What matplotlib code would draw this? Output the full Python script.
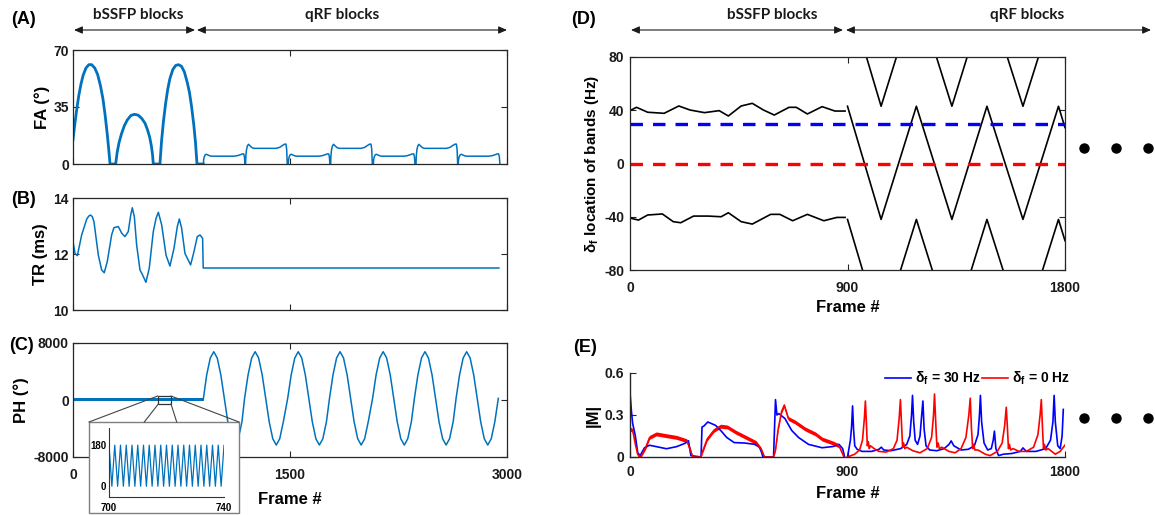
import numpy as np
import matplotlib
matplotlib.use("Agg")
import matplotlib.pyplot as plt
from matplotlib.patches import Rectangle, FancyArrowPatch
from matplotlib.lines import Line2D

# ---------------------------------------------------------------- data
# (A) flip angle: three bSSFP arches, then seven qRF blocks
fa_arch1_frame = [0, 12, 25, 40, 55, 70, 90, 110, 129, 150, 170, 190, 207, 222, 236, 247, 256]
fa_arch1_value = [15, 24, 33, 42, 49, 54.5, 59, 61, 61, 59, 55, 48, 40, 30, 19, 9, 0]
fa_arch2_frame = [295, 305, 318, 335, 355, 375, 400, 425, 450, 475, 498, 515, 530, 542, 550, 555]
fa_arch2_value = [0, 7, 13, 18.5, 23.5, 27, 29.8, 30.5, 30, 28, 25, 21, 16.5, 11, 5.5, 0]
fa_arch3_frame = [601, 612, 625, 640, 655, 670, 690, 710, 729, 750, 770, 790, 805, 820, 835, 847, 857]
fa_arch3_value = [0, 14, 26, 37, 46, 52.5, 58, 60.5, 61, 60, 56.5, 50, 44, 35, 24, 13, 0]
fa_block_start = [901, 1193, 1488, 1781, 2076, 2371, 2663]
fa_block_offset = [0, 2, 6, 12, 20, 30, 45, 60, 210, 235, 255, 270, 279, 284, 288]
fa_block_low = [0, 2.5, 4.3, 5.5, 6.0, 5.6, 5.0, 4.8, 4.8, 5.1, 5.7, 6.2, 6.2, 4.5, 0]
fa_block_high = [0, 5.0, 8.6, 11.0, 12.1, 11.2, 10.0, 9.6, 9.6, 10.2, 11.4, 12.2, 12.2, 9.0, 0]
fa_block_kind = ['low', 'high', 'low', 'high', 'low', 'high', 'low']

# (B) repetition time
tr_frame = [0, 14, 30, 60, 95, 110, 122, 134, 145, 175, 198, 216, 237, 267, 283, 313, 337,
            359, 382, 399, 410, 424, 440, 463, 481, 504, 527, 555, 574, 590, 613, 643,
            670, 698, 721, 735, 751, 774, 790, 813, 836, 859, 878, 896, 900, 2944]
tr_value = [12.44, 12.02, 11.94, 12.68, 13.25, 13.36, 13.39, 13.33, 13.15, 11.96, 11.43,
            11.33, 11.73, 12.68, 12.94, 12.98, 12.74, 12.62, 12.80, 13.39, 13.65, 13.33,
            12.32, 11.43, 11.25, 10.99, 11.49, 12.80, 13.27, 13.49, 13.04, 11.96, 11.57,
            12.2, 12.98, 13.25, 12.92, 12.02, 11.85, 11.61, 12.08, 12.62, 12.68, 12.56,
            11.5, 11.5]

# (C) RF phase: bSSFP alternates 0/180 each TR, qRF follows a quadratic-phase cycle
ph_bssfp_cycle = [180, 0]
ph_bssfp_frames = 900
ph_qrf = [
    (900, 0), (924, 3510), (949, 5900), (973, 6780), (997, 5900), (1022, 3510),
    (1046, 230), (1070, -3040), (1095, -5440), (1119, -6320), (1143, -5440), (1168, -3040),
    (1186, 230), (1210, 3510), (1235, 5900), (1259, 6780), (1283, 5900), (1308, 3510),
    (1332, 230), (1356, -3040), (1381, -5440), (1405, -6320), (1429, -5440), (1454, -3040),
    (1484, 230), (1508, 3510), (1533, 5900), (1557, 6780), (1581, 5900), (1606, 3510),
    (1630, 230), (1654, -3040), (1679, -5440), (1703, -6320), (1727, -5440), (1752, -3040),
    (1773, 230), (1797, 3510), (1822, 5900), (1846, 6780), (1870, 5900), (1895, 3510),
    (1919, 230), (1943, -3040), (1968, -5440), (1992, -6320), (2016, -5440), (2041, -3040),
    (2071, 230), (2095, 3510), (2120, 5900), (2144, 6780), (2168, 5900), (2193, 3510),
    (2217, 230), (2241, -3040), (2266, -5440), (2290, -6320), (2314, -5440), (2339, -3040),
    (2360, 230), (2384, 3510), (2409, 5900), (2433, 6780), (2457, 5900), (2482, 3510),
    (2506, 230), (2530, -3040), (2555, -5440), (2579, -6320), (2603, -5440), (2628, -3040),
    (2648, 230), (2672, 3510), (2697, 5900), (2721, 6780), (2745, 5900), (2770, 3510),
    (2794, 230), (2818, -3040), (2843, -5440), (2867, -6320), (2891, -5440), (2916, -3040),
    (2940, 230),
]

# (D) location of the stop bands
band_upper = [(0, 40), (5, 40.2), (27, 42.2), (73, 38.5), (141, 37.7), (202, 43.2), (248, 40.2),
              (308, 38.2), (369, 39.7), (407, 35.7), (460, 43.2), (506, 45.2), (552, 40.2),
              (597, 36.4), (658, 42.2), (688, 42.2), (734, 37.2), (795, 42.7), (848, 39.4),
              (890, 39.4)]
band_lower = [(0, -40), (5, -41.2), (35, -42.5), (73, -38.7), (134, -37.9), (179, -43.7),
              (210, -44.5), (263, -39.5), (324, -39.5), (377, -40.0), (407, -37.0),
              (460, -43.7), (506, -45.5), (582, -38.2), (620, -38.2), (673, -43.0),
              (734, -38.2), (802, -43.0), (856, -40.5), (890, -40.5)]
band_qrf_frame = [900, 1039, 1185, 1332, 1477, 1626, 1773, 1800]
band_qrf_value = [43, -42, 43, -42, 43, -42, 43, 27]
band_spacing = 85
offres_blue = 30
offres_red = 0

# (E) signal magnitude for the two off-resonance values
m30_bssfp = [(0, 0.46), (6, 0.325), (11, 0.24), (16, 0.2), (22, 0.152), (32, 0.03), (42, 0.01),
             (60, 0.066), (81, 0.084), (109, 0.074), (151, 0.059), (193, 0.074), (228, 0.098),
             (242, 0.116), (247, 0.06), (252, 0.01), (294, 0.0), (298, 0.214), (305, 0.22),
             (322, 0.25), (354, 0.226), (375, 0.19), (400, 0.14), (431, 0.103), (473, 0.1),
             (515, 0.091), (536, 0.07), (545, 0.03), (550, 0.0), (594, 0.0), (602, 0.41),
             (608, 0.30), (616, 0.31), (641, 0.275), (669, 0.19), (697, 0.14), (739, 0.09),
             (795, 0.066), (840, 0.075), (865, 0.09), (880, 0.06), (888, 0.0)]
m0_bssfp = [(0, 0.20), (11, 0.19), (22, 0.09), (32, 0.017), (46, 0.0), (64, 0.066), (81, 0.14),
            (109, 0.165), (151, 0.152), (193, 0.14), (235, 0.116), (249, 0.054), (260, 0.0),
            (294, 0.0), (298, 0.03), (319, 0.128), (347, 0.19), (375, 0.22), (403, 0.214),
            (438, 0.177), (480, 0.14), (522, 0.103), (543, 0.054), (557, 0.0), (594, 0.0),
            (602, 0.054), (613, 0.20), (627, 0.325), (638, 0.37), (655, 0.275), (683, 0.25),
            (725, 0.20), (767, 0.165), (795, 0.128), (840, 0.10), (865, 0.08), (885, 0.0)]
m0_ripple = 0.014
m30_qrf = [(900, 0.0), (905, 0.05), (912, 0.12), (917, 0.22), (921, 0.365), (925, 0.2),
           (930, 0.08), (940, 0.055), (960, 0.04), (1000, 0.04), (1030, 0.055), (1040, 0.07),
           (1050, 0.05), (1080, 0.045), (1120, 0.06), (1145, 0.09), (1158, 0.15), (1165, 0.3),
           (1169, 0.44), (1174, 0.25), (1180, 0.12), (1190, 0.09), (1200, 0.15), (1207, 0.3),
           (1212, 0.40), (1217, 0.2), (1225, 0.08), (1240, 0.05), (1270, 0.045), (1300, 0.06),
           (1320, 0.09), (1329, 0.115), (1340, 0.08), (1370, 0.05), (1400, 0.055), (1425, 0.08),
           (1440, 0.16), (1446, 0.3), (1450, 0.44), (1455, 0.25), (1465, 0.1), (1480, 0.05),
           (1495, 0.06), (1503, 0.12), (1508, 0.185), (1514, 0.06), (1525, 0.01), (1545, 0.02),
           (1580, 0.025), (1615, 0.04), (1626, 0.065), (1640, 0.04), (1680, 0.04), (1720, 0.06),
           (1740, 0.12), (1750, 0.25), (1755, 0.44), (1760, 0.25), (1770, 0.08), (1780, 0.06),
           (1788, 0.15), (1793, 0.34)]
m0_qrf = [(900, 0.0), (930, 0.02), (950, 0.05), (962, 0.12), (970, 0.28), (974, 0.40),
          (978, 0.25), (982, 0.08), (986, 0.11), (990, 0.06), (995, 0.08), (1010, 0.06),
          (1030, 0.04), (1060, 0.035), (1090, 0.06), (1105, 0.12), (1114, 0.28), (1119, 0.41),
          (1124, 0.22), (1128, 0.07), (1132, 0.1), (1137, 0.06), (1145, 0.07), (1170, 0.045),
          (1200, 0.03), (1230, 0.06), (1248, 0.14), (1256, 0.3), (1260, 0.45), (1265, 0.25),
          (1270, 0.07), (1275, 0.1), (1280, 0.06), (1290, 0.07), (1320, 0.04), (1345, 0.03),
          (1370, 0.06), (1390, 0.14), (1402, 0.3), (1408, 0.42), (1413, 0.2), (1418, 0.06),
          (1422, 0.09), (1427, 0.05), (1440, 0.05), (1470, 0.02), (1490, 0.01), (1520, 0.04),
          (1540, 0.1), (1550, 0.22), (1557, 0.355), (1562, 0.2), (1566, 0.06), (1570, 0.09),
          (1575, 0.05), (1585, 0.06), (1610, 0.04), (1640, 0.04), (1670, 0.07), (1688, 0.16),
          (1697, 0.3), (1702, 0.41), (1707, 0.2), (1711, 0.06), (1715, 0.09), (1720, 0.05),
          (1730, 0.06), (1760, 0.02), (1780, 0.04), (1800, 0.085)]

# ---------------------------------------------------------------- style
W, H = 1155, 515
plt.rcParams['font.family'] = ['Liberation Sans', 'DejaVu Sans']
plt.rcParams['font.weight'] = 'bold'
plt.rcParams['axes.labelweight'] = 'bold'
plt.rcParams['axes.unicode_minus'] = False
plt.rcParams['mathtext.fontset'] = 'custom'
plt.rcParams['mathtext.rm'] = 'Liberation Sans:bold'
plt.rcParams['mathtext.bf'] = 'Liberation Sans:bold'
plt.rcParams['mathtext.it'] = 'Liberation Sans:bold:italic'
plt.rcParams['mathtext.default'] = 'bf'
plt.rcParams['lines.scale_dashes'] = False

MBLUE = '#0072BD'
SPINE = '#262626'
HEAD_FONT = ['Lato', 'DejaVu Sans']

# right-hand column geometry (pixels)
RL, RR = 630, 1065


def axes_px(fig, left, top, right, bottom, **kw):
    return fig.add_axes([left / W, 1 - bottom / H, (right - left) / W, (bottom - top) / H], **kw)


def fx(x):
    return x / W


def fy(y):
    return 1 - y / H


def boxed(ax, xpad=8):
    ax.tick_params(direction='in', length=4, width=0.8, top=True, right=True,
                   labelsize=10, pad=3, colors=SPINE, labelcolor='#1a1a1a')
    ax.tick_params(axis='x', pad=xpad)
    for s in ax.spines.values():
        s.set_linewidth(0.9)
        s.set_color(SPINE)


def unzip(pairs):
    return [p[0] for p in pairs], [p[1] for p in pairs]


def place_ylabel(ax, text, x_px, left_px, width_px, size=12):
    ax.set_ylabel(text, fontsize=size)
    ax.yaxis.set_label_coords((x_px - left_px) / width_px, 0.5)
    ax.yaxis.label.set_va('center')


def place_xlabel(ax, text, y_px, bottom_px, height_px, size=12):
    ax.set_xlabel(text, fontsize=size)
    ax.xaxis.set_label_coords(0.5, -(y_px - bottom_px) / height_px)
    ax.xaxis.label.set_va('center')


fig = plt.figure(figsize=(W / 100, H / 100), dpi=100)
fig.patch.set_facecolor('white')

# ---------------------------------------------------------------- (A)
ax_a = axes_px(fig, 73, 50, 507, 164)
arch_f = fa_arch1_frame + fa_arch2_frame + fa_arch3_frame + [fa_block_start[0]]
arch_v = fa_arch1_value + fa_arch2_value + fa_arch3_value + [0]
ax_a.plot(arch_f, arch_v, color=MBLUE, lw=2.0, solid_joinstyle='round')
qrf_f, qrf_v = [], []
for start, kind in zip(fa_block_start, fa_block_kind):
    prof = fa_block_low if kind == 'low' else fa_block_high
    qrf_f += [start + o for o in fa_block_offset]
    qrf_v += prof
ax_a.plot(qrf_f, qrf_v, color=MBLUE, lw=1.1)
ax_a.set_xlim(0, 3000)
ax_a.set_ylim(0, 70)
ax_a.set_xticks([0, 1500, 3000])
ax_a.set_yticks([0, 35, 70])
boxed(ax_a)
ax_a.tick_params(labelbottom=False)
place_ylabel(ax_a, 'FA (°)', 42, 73, 434)

# ---------------------------------------------------------------- (B)
ax_b = axes_px(fig, 73, 198, 507, 310)
ax_b.plot(tr_frame, tr_value, color=MBLUE, lw=1.1)
ax_b.set_xlim(0, 3000)
ax_b.set_ylim(10, 14)
ax_b.set_xticks([0, 1500, 3000])
ax_b.set_yticks([10, 12, 14])
boxed(ax_b)
ax_b.tick_params(labelbottom=False)
place_ylabel(ax_b, 'TR (ms)', 40, 73, 434)

# ---------------------------------------------------------------- (C)
ph_f = list(range(ph_bssfp_frames))
ph_v = list(np.tile(ph_bssfp_cycle, ph_bssfp_frames // 2))
qf, qv = unzip(ph_qrf)
ph_f += qf
ph_v += qv
ax_c = axes_px(fig, 73, 343, 507, 457)
ax_c.plot(ph_f, ph_v, color=MBLUE, lw=1.1)
ax_c.set_xlim(0, 3000)
ax_c.set_ylim(-8000, 8000)
ax_c.set_xticks([0, 1500, 3000])
ax_c.set_yticks([-8000, 0, 8000])
boxed(ax_c)
place_ylabel(ax_c, 'PH (°)', 21, 73, 434)
place_xlabel(ax_c, 'Frame #', 500, 457, 114)

# zoom box on the bSSFP phase and the inset it opens into
ax_c.add_patch(Rectangle((585, -560), 92, 1120, fill=False, ec='#333333', lw=0.9, zorder=5))
fig.patches.append(Rectangle((fx(89), fy(513)), (239 - 89) / W, (513 - 422) / H,
                             transform=fig.transFigure, fc='white', ec='#7f7f7f', lw=1.0,
                             zorder=3))
for (x0, y0), (x1, y1) in [((157.7, 396), (89, 422)), ((171, 396), (239, 422)),
                           ((158.3, 404), (144.3, 422)), ((171, 404), (176.7, 422))]:
    fig.lines.append(Line2D([fx(x0), fx(x1)], [fy(y0), fy(y1)], transform=fig.transFigure,
                            color='#444444', lw=0.8, zorder=4))
ax_in = axes_px(fig, 109, 428, 224, 497, zorder=5)
ax_in.patch.set_alpha(0)
ax_in.plot(ph_f, ph_v, color=MBLUE, lw=0.9)
ax_in.set_xlim(700, 740)
ax_in.set_ylim(-47, 255)
ax_in.set_xticks([700, 740])
ax_in.set_yticks([0, 180])
ax_in.spines['top'].set_visible(False)
ax_in.spines['right'].set_visible(False)
for s in ('left', 'bottom'):
    ax_in.spines[s].set_linewidth(0.8)
    ax_in.spines[s].set_color('#333333')
ax_in.tick_params(direction='in', length=0, labelsize=7, pad=2)
ax_in.tick_params(axis='x', pad=4)

# ---------------------------------------------------------------- (D)
ax_d = axes_px(fig, RL, 57, RR, 270)
uf, uv = unzip(band_upper)
lf, lv = unzip(band_lower)
ax_d.plot(uf, uv, color='k', lw=1.2)
ax_d.plot(lf, lv, color='k', lw=1.2)
for k in (-1, 0, 1):
    ax_d.plot(band_qrf_frame, np.array(band_qrf_value) + k * band_spacing, color='k', lw=1.2)
ax_d.plot([0, 1800], [offres_blue, offres_blue], color='#0000FF', lw=2.4, dashes=(9.0, 7.2))
ax_d.plot([0, 1800], [offres_red, offres_red], color='#FF0000', lw=2.4, dashes=(9.0, 7.2))
ax_d.set_xlim(0, 1800)
ax_d.set_ylim(-80, 80)
ax_d.set_xticks([0, 900, 1800])
ax_d.set_yticks([-80, -40, 0, 40, 80])
boxed(ax_d)
ax_d.tick_params(axis='y', pad=4)
place_ylabel(ax_d, 'δ${}_{f}$ location of bands (Hz)', 592, RL, RR - RL, size=11)
place_xlabel(ax_d, 'Frame #', 307, 270, 213)

# ---------------------------------------------------------------- (E)
ax_e = axes_px(fig, RL, 373, RR, 457)
bf, bv = unzip(m30_bssfp)
rf, rv = unzip(m0_bssfp)
ax_e.plot(bf, bv, color='#0000FF', lw=1.2)
rv_arr = np.array(rv)
half = np.minimum(rv_arr, m0_ripple)
ax_e.fill_between(rf, rv_arr - half, rv_arr + half, color='#FF0000', lw=0)
ax_e.plot(rf, rv, color='#FF0000', lw=1.1)
bqf, bqv = unzip(m30_qrf)
rqf, rqv = unzip(m0_qrf)
ax_e.plot(bqf, bqv, color='#0000FF', lw=1.2)
ax_e.plot(rqf, rqv, color='#FF0000', lw=1.2)
ax_e.set_xlim(0, 1800)
ax_e.set_ylim(0, 0.6)
ax_e.set_xticks([0, 900, 1800])
ax_e.set_yticks([0, 0.3, 0.6])
ax_e.set_yticklabels(['0', '0.3', '0.6'])
ax_e.spines['top'].set_visible(False)
ax_e.spines['right'].set_visible(False)
for s in ('left', 'bottom'):
    ax_e.spines[s].set_linewidth(1.0)
    ax_e.spines[s].set_color(SPINE)
ax_e.tick_params(direction='in', length=4, width=0.8, labelsize=10, pad=4, colors=SPINE,
                 labelcolor='#1a1a1a')
ax_e.tick_params(axis='x', pad=6)
place_ylabel(ax_e, '|M|', 593, RL, RR - RL)
place_xlabel(ax_e, 'Frame #', 493, 457, 84)

# legend of panel E
for (x0, x1), col, txt, tx in [((885, 911), '#0000FF', 'δ${}_{f}$ = 30 Hz', 915),
                               ((982, 1008), '#FF0000', 'δ${}_{f}$ = 0 Hz', 1012)]:
    fig.lines.append(Line2D([fx(x0), fx(x1)], [fy(378), fy(378)], transform=fig.transFigure,
                            color=col, lw=1.2))
    fig.text(fx(tx), fy(378), txt, fontsize=10, ha='left', va='center')

# continuation dots
for yy in (148, 418):
    fig.lines.append(Line2D([fx(1084), fx(1116), fx(1148)], [fy(yy)] * 3,
                            transform=fig.transFigure, ls='none', marker='o', ms=6.5,
                            color='k'))


# ---------------------------------------------------------------- block headers
def header(x0, x1, y):
    fig.patches.append(FancyArrowPatch(
        (fx(x0), fy(y)), (fx(x1), fy(y)), transform=fig.transFigure,
        arrowstyle='<|-|>,head_length=5,head_width=2.2', color='#1a1a1a', lw=0.8,
        shrinkA=0, shrinkB=0))


header(74, 195, 30)
header(197, 507, 30)
header(631, 843, 30)
header(846, 1151, 30)
for x, txt in [(138, 'bSSFP blocks'), (342, 'qRF blocks'),
               (772, 'bSSFP blocks'), (1027, 'qRF blocks')]:
    fig.text(fx(x), fy(15), txt, family=HEAD_FONT, fontsize=11, fontweight='bold',
             ha='center', va='center', color='#1a1a1a')

# panel letters
for x, y, lab in [(23, 20, '(A)'), (23, 199, '(B)'), (21, 345, '(C)'),
                  (584, 20, '(D)'), (585, 347, '(E)')]:
    fig.text(fx(x), fy(y), lab, fontsize=13, fontweight='bold', ha='center', va='center')

fig.savefig('out.png', dpi=100)
